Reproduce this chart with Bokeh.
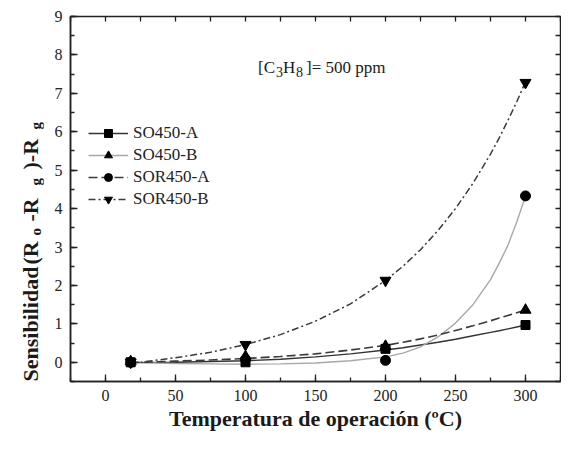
import math
from bokeh.plotting import figure
from bokeh.layouts import row
from bokeh.models import (Range1d, LinearAxis, SingleIntervalTicker, Label,
                          Legend, LegendItem, Title)
from bokeh.embed import file_html
from bokeh.resources import INLINE

# ---- data ----
temp = [18, 100, 200, 300]
so450a = [0.0, 0.0, 0.35, 0.97]
so450b = [0.02, 0.15, 0.42, 1.36]
sor450a = [0.0, 0.08, 0.05, 4.33]
sor450b = [0.0, 0.46, 2.13, 7.28]

# fitted curves as drawn in the picture
curve_x = [18, 25, 50, 75, 100, 125, 150, 175, 200, 212.5, 225, 237.5, 250,
           262.5, 275, 281.25, 287.5, 293.75, 300]
curve_solid_dark = [-0.01, -0.01, 0.0, 0.02, 0.04, 0.08, 0.14, 0.22, 0.32,
                    0.38, 0.45, 0.52, 0.60, 0.69, 0.78, 0.82, 0.87, 0.92, 0.97]
curve_solid_light = [0.0, -0.01, -0.03, -0.04, -0.05, -0.04, -0.02, 0.04,
                     0.14, 0.24, 0.40, 0.66, 1.02, 1.50, 2.15, 2.58, 3.05,
                     3.65, 4.33]
curve_dashed = [0.0, 0.0, 0.03, 0.06, 0.10, 0.15, 0.22, 0.32, 0.44, 0.52,
                0.61, 0.71, 0.83, 0.95, 1.08, 1.15, 1.22, 1.29, 1.36]
curve_dashdot = [-0.02, 0.0, 0.12, 0.26, 0.46, 0.72, 1.07, 1.52, 2.13, 2.50,
                 2.93, 3.43, 4.00, 4.66, 5.42, 5.84, 6.30, 6.78, 7.30]

series_names = ["SO450-A", "SO450-B", "SOR450-A", "SOR450-B"]

SERIF = "Liberation Serif"
INK = "#1a1a1a"
YSTRIP = 44

p = figure(frame_width=490, frame_height=365,
           x_range=Range1d(-25, 325), y_range=Range1d(-0.5, 9),
           output_backend="svg", toolbar_location=None,
           min_border_left=26, min_border_right=1, min_border_top=16,
           min_border_bottom=52)
p.xgrid.visible = False
p.ygrid.visible = False
p.outline_line_color = "#222222"
p.outline_line_width = 1.5

xt = SingleIntervalTicker(interval=50, num_minor_ticks=2)
yt = SingleIntervalTicker(interval=1, num_minor_ticks=2)

for ax, tk in ((p.xaxis[0], xt), (p.yaxis[0], yt)):
    ax.ticker = tk
    ax.major_tick_in = 7
    ax.major_tick_out = 0
    ax.minor_tick_in = 4
    ax.minor_tick_out = 0
    ax.axis_line_color = "#222222"
    ax.axis_line_width = 1.5
    ax.major_tick_line_color = "#222222"
    ax.minor_tick_line_color = "#222222"
    ax.major_tick_line_width = 1.3
    ax.minor_tick_line_width = 1.3
    ax.major_label_text_font = SERIF
    ax.major_label_text_font_size = "16px"
    ax.major_label_text_color = "#222222"
p.xaxis.major_label_standoff = 8
p.yaxis.major_label_standoff = 8

def mirror_axis(interval):
    return LinearAxis(ticker=SingleIntervalTicker(interval=interval,
                                                  num_minor_ticks=0),
                      major_label_text_font_size="0px",
                      major_label_text_color=None, major_label_standoff=0,
                      axis_line_color=None, major_tick_in=5, major_tick_out=0,
                      minor_tick_in=0, minor_tick_out=0,
                      major_tick_line_color="#222222",
                      major_tick_line_width=1.3)

p.add_layout(mirror_axis(25), "above")
p.add_layout(mirror_axis(0.5), "right")

# x title
p.add_layout(Title(text="Temperatura de operación (ºC)", align="center",
                   text_font=SERIF, text_font_size="22px",
                   text_font_style="bold", text_color=INK, standoff=0),
             "below")

# curves
l_dark = p.line(curve_x, curve_solid_dark, line_color="#333333", line_width=1.4)
l_light = p.line(curve_x, curve_solid_light, line_color="#a8a8a8", line_width=1.4)
l_dash = p.line(curve_x, curve_dashed, line_color="#3a3a3a", line_width=1.6,
                line_dash="9 4")
l_dd = p.line(curve_x, curve_dashdot, line_color="#3a3a3a", line_width=1.5,
              line_dash="7 3 2 3")

# markers
m_sq = p.scatter(temp, so450a, marker="square", size=9, color="black")
m_tr = p.scatter(temp, so450b, marker="triangle", size=11, color="black")
m_ci = p.scatter(temp, sor450a, marker="circle", size=10, color="black")
m_it = p.scatter(temp, sor450b, marker="inverted_triangle", size=11, color="black")

legend = Legend(items=[
    LegendItem(label=series_names[0], renderers=[l_dark, m_sq]),
    LegendItem(label=series_names[1], renderers=[l_light, m_tr]),
    LegendItem(label=series_names[2], renderers=[l_dash, m_ci]),
    LegendItem(label=series_names[3], renderers=[l_dd, m_it]),
], location=(18, 172), border_line_color=None, background_fill_alpha=0,
    padding=0, margin=0, glyph_width=40, glyph_height=20, label_height=20,
    spacing=2, label_standoff=5, label_text_font=SERIF,
    label_text_font_size="17px", label_text_color="#222222")
p.add_layout(legend)

def lab(fig, text, x, y, size, bold=False, angle=0.0, units="screen", dx=0):
    fig.add_layout(Label(x=x, y=y, x_units=units, y_units=units, x_offset=dx,
                         text=text, angle=angle, text_align="left",
                         text_baseline="alphabetic", text_font=SERIF,
                         text_font_size=f"{size}px",
                         text_font_style="bold" if bold else "normal",
                         text_color=INK))

# annotation [C3H8]= 500 ppm  (anchored in data units, pieces offset in px)
ax0, ay0, ays = 109, 7.67, 7.56
lab(p, "[C", ax0, ay0, 17, units="data")
lab(p, "3", ax0, ays, 14, units="data", dx=18)
lab(p, "H", ax0, ay0, 17, units="data", dx=25)
lab(p, "8", ax0, ays, 14, units="data", dx=38)
lab(p, "]= 500 ppm", ax0, ay0, 17, units="data", dx=48)

# y title in a narrow strip to the left (its frame lines up with p's frame)
yf = figure(width=YSTRIP, height=433, x_range=Range1d(0, 1),
            y_range=Range1d(0, 1), output_backend="svg",
            toolbar_location=None, x_axis_location=None,
            y_axis_location=None, min_border=0)
yf.xgrid.visible = False
yf.ygrid.visible = False
yf.outline_line_color = None

A = math.pi / 2
bx, sx = 30, 35
for txt, yy, sz, xx in (("Sensibilidad", 0, 22, bx), ("(R", 117, 22, bx),
                        ("o", 146, 15, sx), ("-R", 160, 22, bx),
                        ("g", 196, 15, sx), (")-R", 212, 22, bx),
                        ("g", 252, 15, sx)):
    lab(yf, txt, xx, yy, sz, bold=True, angle=A)

layout = row(yf, p, spacing=0)
open("out.html", "w").write(file_html(layout, INLINE))
